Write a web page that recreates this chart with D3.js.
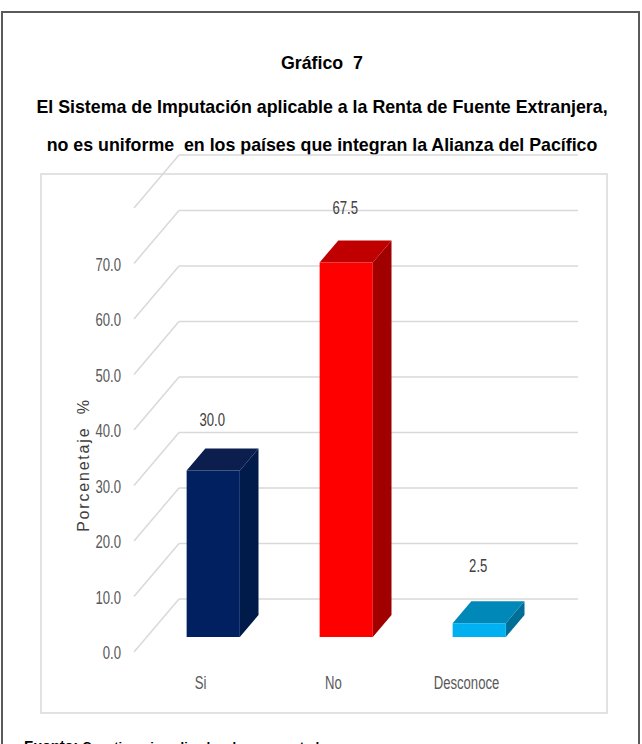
<!DOCTYPE html>
<html>
<head>
<meta charset="utf-8">
<script src="https://cdn.jsdelivr.net/npm/d3@7"></script>
<style>
  body { margin: 0; background: #fff; }
  svg { display: block; }
</style>
</head>
<body>
<svg id="chart" width="642" height="744"></svg>
<script>
// data
const categories = ["Si", "No", "Desconoce"];
const values = [30.0, 67.5, 2.5];
const yTicks = [0, 10, 20, 30, 40, 50, 60, 70];
const gridValues = [0, 10, 20, 30, 40, 50, 60, 70, 80];
const titleLines = [
  "Gráfico  7",
  "El Sistema de Imputación aplicable a la Renta de Fuente Extranjera,",
  "no es uniforme  en los países que integran la Alianza del Pacífico"
];

// face colours per bar: front, top, side
const faceColors = [
  ["#002060", "#0b1e4e", "#001a4a"],
  ["#ff0000", "#c00000", "#a00000"],
  ["#00b0f0", "#0088b8", "#006e96"]
];

const svg = d3.select("#chart");
const sans = "'Liberation Sans', Arial, sans-serif";
// narrow look: squeeze Liberation Sans sideways, stretch it up
const squeeze = "scale(0.82, 1.2)";

// outer frame + chart area frame
svg.append("path")
  .attr("d", "M2,760 L2,12 L639,12 L639,760")
  .attr("fill", "none").attr("stroke", "#5a5a5a").attr("stroke-width", 2);

svg.append("rect")
  .attr("x", 41).attr("y", 174).attr("width", 566).attr("height", 539)
  .attr("fill", "#fff").attr("stroke", "#d9d9d9").attr("stroke-width", 1.5);

// titles
const titleY = [69, 113, 151];
svg.selectAll(".title")
  .data(titleLines)
  .join("text")
  .attr("class", "title")
  .attr("x", 322)
  .attr("y", (d, i) => titleY[i])
  .attr("text-anchor", "middle")
  .style("white-space", "pre")
  .attr("font-family", sans)
  .attr("font-weight", "bold")
  .attr("font-size", 17.8)
  .attr("fill", "#000")
  .text(d => d);

// oblique 3d projection
const Y0 = 652, DX = 45, DY = 53;
const x = d3.scaleBand().domain(categories).range([134, 533])
  .paddingInner(0.6).paddingOuter(0.3);
const h = d3.scaleLinear().domain([0, 80]).range([0, 444]);
const P = (xs, v, t) => [xs + DX * t, Y0 - h(v) - DY * t];

const grid = svg.append("g");
// back wall lines
grid.selectAll(".back")
  .data(gridValues)
  .join("line")
  .attr("x1", d => P(134, d, 1)[0]).attr("y1", d => P(134, d, 1)[1])
  .attr("x2", d => P(533, d, 1)[0]).attr("y2", d => P(533, d, 1)[1])
  .attr("stroke", "#d9d9d9").attr("stroke-width", 1.5);
// side wall diagonals
grid.selectAll(".side")
  .data(gridValues)
  .join("line")
  .attr("x1", d => P(134, d, 1)[0]).attr("y1", d => P(134, d, 1)[1])
  .attr("x2", d => P(134, d, 0)[0]).attr("y2", d => P(134, d, 0)[1])
  .attr("stroke", "#d9d9d9").attr("stroke-width", 1.5);

// y tick labels on the front edge
svg.selectAll(".ytick")
  .data(yTicks)
  .join("text")
  .attr("class", "ytick")
  .attr("transform", d => `translate(121, ${P(134, d, 0)[1] + 7}) ${squeeze}`)
  .attr("text-anchor", "end")
  .attr("font-family", sans)
  .attr("font-size", 16)
  .attr("fill", "#595959")
  .text(d => d.toFixed(1));

// bars
const T1 = 0.283, T2 = 0.698;
const poly = pts => "M" + pts.map(p => p.join(",")).join("L") + "Z";

const bars = svg.selectAll(".bar")
  .data(categories.map((c, i) => ({ c, v: values[i], i })))
  .join("g")
  .attr("class", "bar");

bars.append("path")
  .attr("d", d => {
    const xr = x(d.c) + x.bandwidth();
    return poly([P(xr, d.v, T1), P(xr, d.v, T2), P(xr, 0, T2), P(xr, 0, T1)]);
  })
  .attr("fill", d => faceColors[d.i][2]);

bars.append("path")
  .attr("d", d => {
    const xl = x(d.c), xr = xl + x.bandwidth();
    return poly([P(xl, d.v, T1), P(xr, d.v, T1), P(xr, d.v, T2), P(xl, d.v, T2)]);
  })
  .attr("fill", d => faceColors[d.i][1]);

bars.append("path")
  .attr("d", d => {
    const xl = x(d.c), xr = xl + x.bandwidth();
    return poly([P(xl, d.v, T1), P(xr, d.v, T1), P(xr, 0, T1), P(xl, 0, T1)]);
  })
  .attr("fill", d => faceColors[d.i][0]);

// value labels
bars.append("text")
  .attr("transform", d => {
    const p = P(x(d.c) + x.bandwidth() / 2, d.v, T1);
    const q = P(0, d.v, T2);
    return `translate(${p[0] - 1}, ${q[1] - 23 - 3 * d.i}) ${squeeze}`;
  })
  .attr("text-anchor", "middle")
  .attr("font-family", sans)
  .attr("font-size", 16)
  .attr("fill", "#404040")
  .text(d => d.v.toFixed(1));

// category labels
svg.selectAll(".xlab")
  .data(categories)
  .join("text")
  .attr("class", "xlab")
  .attr("transform", d => `translate(${x(d) + x.bandwidth() / 2}, 689) ${squeeze}`)
  .attr("text-anchor", "middle")
  .attr("font-family", sans)
  .attr("font-size", 16)
  .attr("fill", "#595959")
  .text(d => d);

// axis title
svg.append("text")
  .attr("transform", "translate(89, 465) rotate(-90)")
  .attr("text-anchor", "middle")
  .style("white-space", "pre")
  .attr("font-family", sans)
  .attr("font-size", 16)
  .attr("letter-spacing", 1.8)
  .attr("fill", "#404040")
  .text("Porcenetaje  %");

// source note, cut by the page edge as in the original
const src = svg.append("text")
  .attr("x", 24).attr("y", 751)
  .attr("font-family", sans)
  .attr("font-weight", "bold")
  .attr("fill", "#000");
src.append("tspan").attr("font-size", 15).text("Fuente: ");
src.append("tspan").attr("font-size", 13).text("Cuestionario aplicado a los encuestados");
</script>
</body>
</html>
